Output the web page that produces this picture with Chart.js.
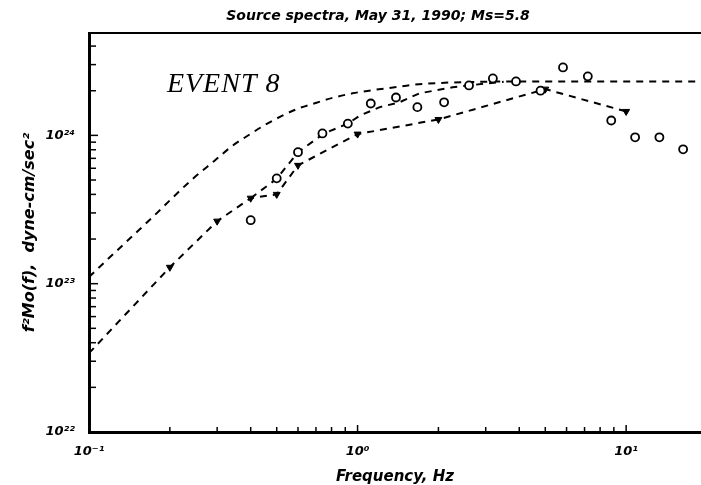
<!DOCTYPE html>
<html>
<head>
<meta charset="utf-8">
<style>
  html, body { margin: 0; padding: 0; background: #fff; }
  #wrap { width: 701px; height: 485px; }
</style>
<script src="https://cdn.jsdelivr.net/npm/chart.js@4/dist/chart.umd.min.js"></script>
</head>
<body>
<div id="wrap"><canvas id="spectra" width="701" height="485"></canvas></div>
<script>
// Source spectra, event 8 (Hz, dyne-cm/sec^2)

const titleText = 'Source spectra, May 31, 1990; Ms=5.8';
const eventLabel = 'EVENT 8';

// upper model curve
const upperFreq = [0.1, 0.127, 0.147, 0.175, 0.202, 0.24, 0.292, 0.342, 0.402, 0.461, 0.592, 0.703, 0.807, 0.957, 1.14, 1.4, 1.6, 2.2, 3.0, 4.8, 19];
const upperVal = [1.11e23, 1.67e23, 2.14e23, 2.88e23, 3.71e23, 4.98e23, 6.7e23, 8.5e23, 1.03e24, 1.2e24, 1.5e24, 1.66e24, 1.79e24, 1.92e24, 2.02e24, 2.12e24, 2.19e24, 2.27e24, 2.3e24, 2.31e24, 2.31e24];

// lower curve through the triangles
const lowerFreq = [0.1, 0.2, 0.3, 0.4, 0.5, 0.6, 1.0, 2.0, 5.0, 10];
const lowerVal = [3.4e22, 1.29e23, 2.64e23, 3.77e23, 4.0e23, 6.28e23, 1.02e24, 1.28e24, 2.05e24, 1.45e24];

// middle curve through the circles
const midFreq = [0.4, 0.5, 0.6, 0.75, 0.92, 1.02, 1.21, 1.43, 1.7, 2.26, 3.03, 3.5];
const midVal = [3.77e23, 5.1e23, 7.7e23, 1.03e24, 1.2e24, 1.36e24, 1.55e24, 1.67e24, 1.92e24, 2.11e24, 2.24e24, 2.3e24];

// circle points
const circleFreq = [0.4, 0.5, 0.6, 0.74, 0.92, 1.12, 1.39, 1.67, 2.1, 2.6, 3.19, 3.89, 4.8, 5.82, 7.2, 8.8, 10.8, 13.3, 16.3];
const circleVal = [2.68e23, 5.13e23, 7.7e23, 1.03e24, 1.2e24, 1.64e24, 1.8e24, 1.55e24, 1.67e24, 2.17e24, 2.42e24, 2.31e24, 2.0e24, 2.87e24, 2.5e24, 1.26e24, 9.7e23, 9.7e23, 8.05e23];

// triangle points
const triFreq = [0.2, 0.3, 0.4, 0.5, 0.6, 1.0, 2.0, 5.0, 10];
const triVal = [1.29e23, 2.64e23, 3.77e23, 4.0e23, 6.28e23, 1.02e24, 1.28e24, 2.05e24, 1.45e24];

const xMin = 0.1, xMax = 19;
const yMin = 1e22, yMax = 4.9e24;

const sup = { '-': '⁻', '0': '⁰', '1': '¹', '2': '²', '3': '³', '4': '⁴', '5': '⁵', '6': '⁶', '7': '⁷', '8': '⁸', '9': '⁹' };

function pts(xs, ys) {
  return xs.map((x, i) => ({ x: x, y: ys[i] }));
}

function powLabel(value) {
  const e = Math.log10(value);
  if (Math.abs(e - Math.round(e)) > 1e-6) return '';
  return '10' + String(Math.round(e)).split('').map(c => sup[c]).join('');
}

// integer mantissa check for the tick marks
function mantissa(v) {
  const m = v / Math.pow(10, Math.floor(Math.log10(v) + 1e-9));
  return Math.abs(m - Math.round(m)) < 1e-6 ? Math.round(m) : 0;
}

const tickFont = { family: 'DejaVu Sans', size: 13, style: 'italic', weight: 'bold' };

const dashed = {
  showLine: true,
  borderColor: '#000',
  borderWidth: 2,
  borderDash: [7, 6],
  pointRadius: 0,
  fill: false,
};

const framePlugin = {
  id: 'frame',
  afterDraw(chart) {
    const { ctx, chartArea: a, scales: { x, y } } = chart;
    ctx.save();
    ctx.strokeStyle = '#000';
    ctx.lineWidth = 2;
    ctx.beginPath();
    ctx.moveTo(a.left, a.top);
    ctx.lineTo(a.right, a.top);
    ctx.stroke();

    ctx.lineWidth = 1.5;
    y.ticks.forEach(t => {
      const m = mantissa(t.value);
      if (!m) return;
      const py = y.getPixelForValue(t.value);
      ctx.beginPath();
      ctx.moveTo(a.left, py);
      ctx.lineTo(a.left + (m === 1 ? 9 : 7), py);
      ctx.stroke();
    });
    x.ticks.forEach(t => {
      const m = mantissa(t.value);
      if (!m || t.value > 10.001) return;
      const px = x.getPixelForValue(t.value);
      ctx.beginPath();
      ctx.moveTo(px, a.bottom);
      ctx.lineTo(px, a.bottom - (m === 1 ? 7 : 5));
      ctx.stroke();
    });

    ctx.fillStyle = '#000';
    ctx.font = 'italic bold 14px "DejaVu Sans"';
    ctx.textAlign = 'center';
    ctx.textBaseline = 'middle';
    ctx.fillText(titleText, 378, 16);

    ctx.font = 'italic 28px "Liberation Serif"';
    ctx.letterSpacing = '1px';
    ctx.textAlign = 'left';
    ctx.textBaseline = 'alphabetic';
    ctx.fillText(eventLabel, x.getPixelForValue(0.195), y.getPixelForValue(1.95e24));
    ctx.restore();
  },
};

function createSpectraChart() {
  const canvas = document.getElementById('spectra');
  const ctx = canvas.getContext('2d');

  new Chart(ctx, {
    type: 'scatter',
    data: {
      datasets: [
        {
          label: 'circles',
          data: pts(circleFreq, circleVal),
          pointStyle: 'circle',
          pointRadius: 4,
          pointBorderWidth: 1.8,
          pointBackgroundColor: '#fff',
          pointBorderColor: '#000',
          showLine: false,
        },
        {
          label: 'triangles',
          data: pts(triFreq, triVal),
          pointStyle: 'triangle',
          rotation: 180,
          pointRadius: 4,
          pointBorderWidth: 1,
          pointBackgroundColor: '#000',
          pointBorderColor: '#000',
          showLine: false,
        },
        { ...dashed, label: 'upper', data: pts(upperFreq, upperVal), cubicInterpolationMode: 'monotone' },
        { ...dashed, label: 'middle', data: pts(midFreq, midVal), tension: 0 },
        { ...dashed, label: 'lower', data: pts(lowerFreq, lowerVal), tension: 0 },
      ],
    },
    options: {
      responsive: false,
      animation: false,
      devicePixelRatio: 1,
      layout: { autoPadding: false, padding: { top: 33, right: 0, bottom: 0, left: 0 } },
      plugins: {
        legend: { display: false },
        title: { display: false },
        tooltip: { enabled: false },
      },
      scales: {
        x: {
          type: 'logarithmic',
          min: xMin,
          max: xMax,
          afterFit: s => {
            s.height = 53;
            s.paddingLeft = 0;
            s.paddingRight = 0;
          },
          grid: { display: true, drawOnChartArea: false, drawTicks: false },
          border: { display: true, color: '#000', width: 3 },
          ticks: {
            autoSkip: false,
            maxRotation: 0,
            padding: 12,
            color: '#000',
            font: tickFont,
            callback: v => powLabel(v),
          },
          title: {
            display: true,
            text: 'Frequency, Hz',
            color: '#000',
            font: { family: 'DejaVu Sans', size: 15, style: 'italic', weight: 'bold', lineHeight: 1 },
            padding: { top: 1, bottom: 0 },
          },
        },
        y: {
          type: 'logarithmic',
          min: yMin,
          max: yMax,
          afterFit: s => {
            s.width = 89;
            s.paddingTop = 0;
            s.paddingBottom = 0;
          },
          grid: { display: true, drawOnChartArea: false, drawTicks: false },
          border: { display: true, color: '#000', width: 3 },
          ticks: {
            autoSkip: false,
            padding: 14,
            color: '#000',
            font: tickFont,
            callback: v => powLabel(v),
          },
          title: {
            display: true,
            text: 'f²Mo(f),  dyne-cm/sec²',
            color: '#000',
            font: { family: 'DejaVu Sans', size: 16, style: 'italic', weight: 'bold', lineHeight: 1 },
            padding: { top: 22, bottom: 0 },
          },
        },
      },
    },
    plugins: [framePlugin],
  });
}

document.addEventListener('DOMContentLoaded', createSpectraChart);
</script>
</body>
</html>
